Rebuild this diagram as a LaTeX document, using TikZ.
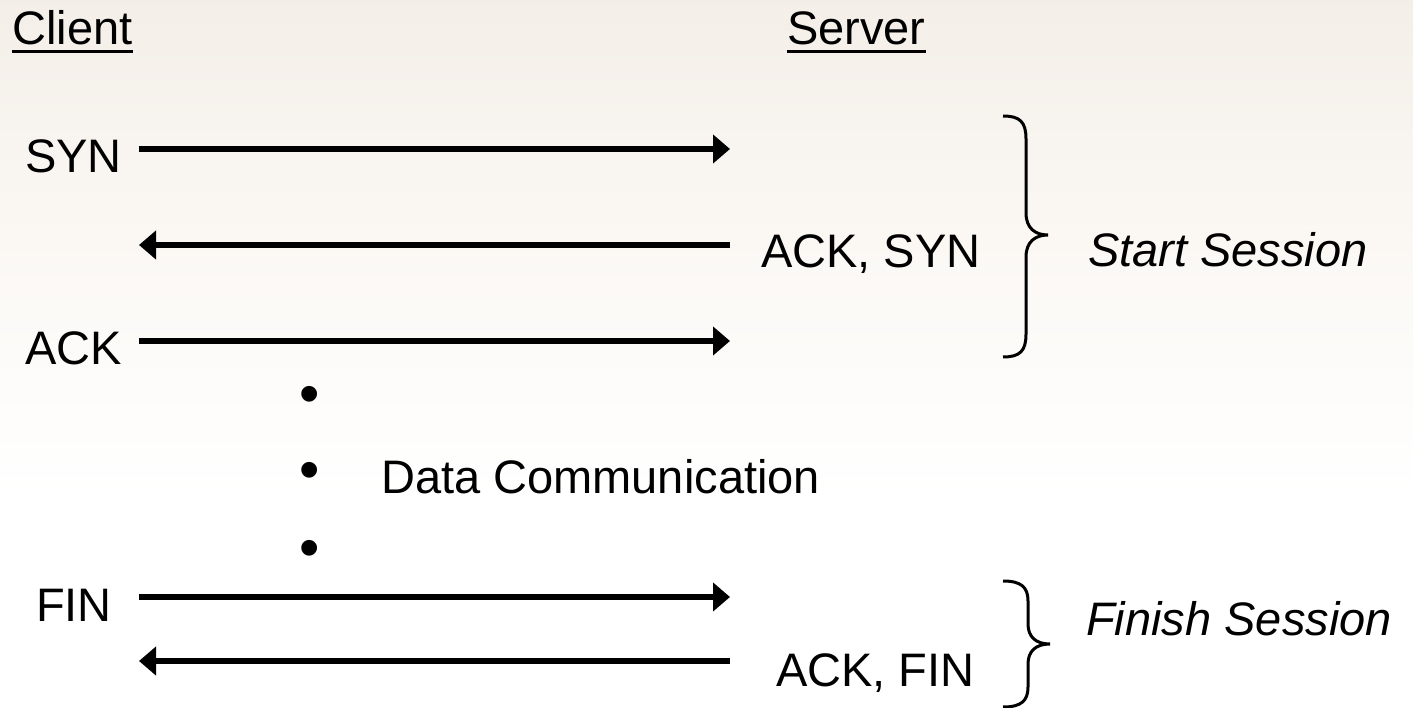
\documentclass[tikz,border=0pt]{standalone}
\usepackage{fontspec}
\setmainfont{Liberation Sans}
\usetikzlibrary{arrows.meta}
\definecolor{bgA}{HTML}{EAE1D3}
\definecolor{bgB}{HTML}{F2ECE5}
\definecolor{bgC}{HTML}{FBF8F4}
\pgfdeclareverticalshading{bgshade}{100bp}{color(0bp)=(white); color(40bp)=(white); color(58bp)=(bgC); color(79bp)=(bgB); color(100bp)=(bgA)}
\tikzset{
  lbl/.style={anchor=base west, inner sep=0pt, font=\fontsize{47}{56}\selectfont},
  bul/.style={anchor=base, inner sep=0pt, font=\fontsize{58}{66}\selectfont},
  msg/.style={line width=5.5pt, -{Triangle[length=17pt,width=28pt]}},
  ul/.style={line width=3pt},
  brace/.style={line width=3pt}
}
\begin{document}
\begin{tikzpicture}[x=1pt,y=-1pt]
\useasboundingbox (0,0) rectangle (1413,708);
\shade[shading=bgshade] (0,0) rectangle (1413,708);

% headings
\node[lbl] (client) at (12,45) {Client};
\node[lbl] (server) at (787,45) {Server};
\draw[ul] ([yshift=-6.5pt]client.base west) -- ([yshift=-6.5pt]client.base east);
\draw[ul] ([yshift=-6.5pt]server.base west) -- ([yshift=-6.5pt]server.base east);

% labels
\node[lbl] (syn) at (25,173) {SYN};
\node[lbl] (ack) at (25,364) {ACK};
\node[lbl] (fin) at (36,621) {FIN};
\node[lbl] (acksyn) at (761,268) {ACK, SYN};
\node[lbl] (ackfin) at (776,686) {ACK, FIN};
\node[lbl,font=\fontsize{47}{56}\selectfont\itshape] (start) at (1088,267) {Start Session};
\node[lbl,font=\fontsize{47}{56}\selectfont\itshape] (finish) at (1086,635) {Finish Session};

% bullets and data communication
\node[bul] (b1) at (310,413) {•};
\node[bul] (b2) at (310,489) {•};
\node[bul] (b3) at (310,567) {•};
\node[lbl] (data) at (381,493) {Data Communication};

% arrow end points
\coordinate (c1) at (139,149);
\coordinate (s1) at (730,149);
\coordinate (s2) at (730,245);
\coordinate (c2) at (139,245);
\coordinate (c3) at (139,341);
\coordinate (s3) at (730,341);
\coordinate (c4) at (139,597);
\coordinate (s4) at (730,597);
\coordinate (s5) at (730,661);
\coordinate (c5) at (139,661);

\draw[msg] (c1) -- (s1);
\draw[msg] (s2) -- (c2);
\draw[msg] (c3) -- (s3);
\draw[msg] (c4) -- (s4);
\draw[msg] (s5) -- (c5);

% braces
\draw[brace] (1003,116) .. controls (1020,116) and (1026,122) .. (1026,139)
  -- (1026,213) .. controls (1026,228) and (1035,235) .. (1048,235)
  .. controls (1035,235) and (1026,242) .. (1026,257)
  -- (1026,334) .. controls (1026,351) and (1020,357) .. (1003,357);
\draw[brace] (1003,581) .. controls (1021,581) and (1028,587) .. (1028,601)
  -- (1028,624) .. controls (1028,637) and (1036,644) .. (1050,644)
  .. controls (1036,644) and (1028,651) .. (1028,664)
  -- (1028,687) .. controls (1028,701) and (1021,707) .. (1003,707);
\end{tikzpicture}
\end{document}
